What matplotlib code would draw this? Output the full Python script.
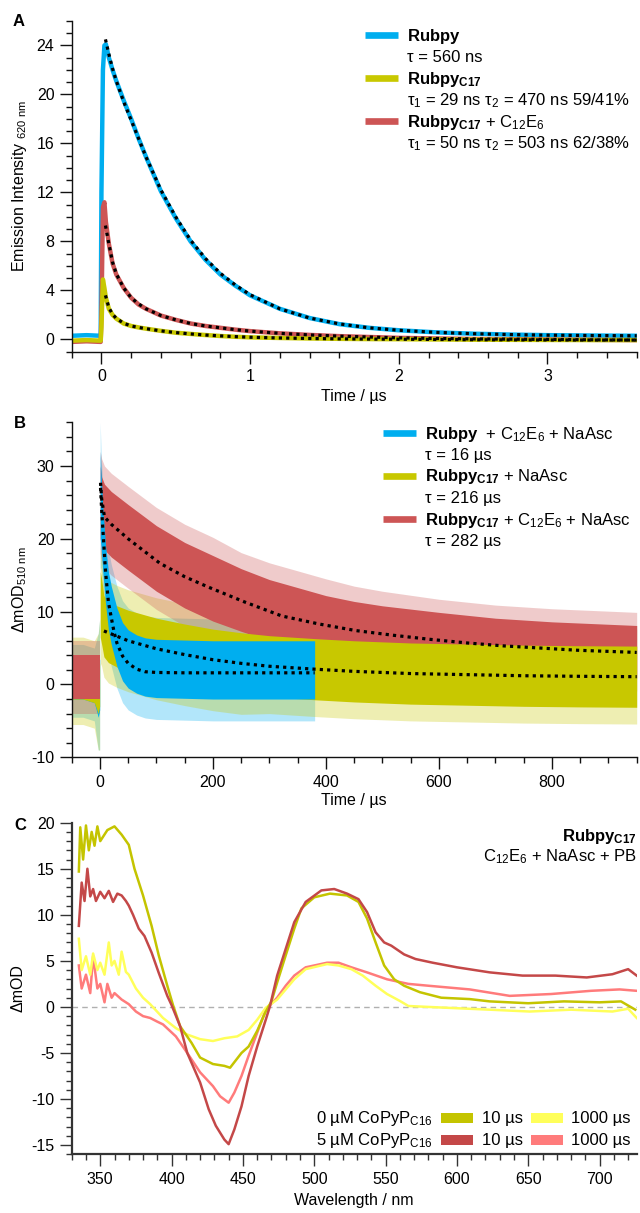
import matplotlib
matplotlib.use('Agg')
import matplotlib.pyplot as plt
from matplotlib.ticker import MultipleLocator
from matplotlib.lines import Line2D
import numpy as np

plt.rcParams['font.family'] = ['Liberation Sans', 'DejaVu Sans']
plt.rcParams['mathtext.fontset'] = 'custom'
plt.rcParams['mathtext.rm'] = 'Liberation Sans'
plt.rcParams['mathtext.it'] = 'Liberation Sans:italic'
plt.rcParams['mathtext.bf'] = 'Liberation Sans:bold'
plt.rcParams['mathtext.default'] = 'regular'
plt.rcParams['axes.unicode_minus'] = False

# ---------------- data: panel A (emission decays) ----------------
A_t = [-0.2, -0.1, -0.005, 0.0, 0.01, 0.02, 0.03, 0.05, 0.075, 0.1, 0.15, 0.2, 0.25, 0.3,
       0.4, 0.5, 0.6, 0.7, 0.8, 0.9, 1.0, 1.2, 1.4, 1.6, 1.8, 2.0, 2.25, 2.5, 2.75, 3.0, 3.3, 3.6]
A_rubpy = [0.3, 0.35, 0.3, 12.0, 22.0, 24.0, 24.1, 23.0, 22.0, 21.1, 19.5, 18.0, 16.4, 14.9,
           12.1, 9.9, 8.0, 6.5, 5.3, 4.4, 3.6, 2.5, 1.75, 1.25, 0.95, 0.75, 0.58, 0.47, 0.4, 0.35, 0.32, 0.3]
A_c17 = [-0.1, -0.05, -0.1, 1.0, 4.9, 4.2, 3.4, 2.5, 2.0, 1.7, 1.3, 1.1, 0.98, 0.88,
         0.7, 0.55, 0.45, 0.36, 0.28, 0.22, 0.17, 0.12, 0.08, 0.05, 0.03, 0.02, 0.0, -0.02, -0.03, -0.04, -0.05, -0.05]
A_c17_c12e6 = [-0.2, -0.15, -0.2, 2.0, 10.8, 11.2, 9.6, 7.8, 6.2, 5.3, 4.2, 3.4, 2.85, 2.5,
               1.95, 1.6, 1.3, 1.1, 0.95, 0.8, 0.68, 0.5, 0.37, 0.27, 0.2, 0.13, 0.08, 0.04, 0.02, 0.0, -0.03, -0.05]
A_tfit = [0.027, 0.05, 0.075, 0.1, 0.15, 0.2, 0.25, 0.3, 0.4, 0.5, 0.6, 0.7, 0.8, 0.9, 1.0,
          1.2, 1.4, 1.6, 1.8, 2.0, 2.25, 2.5, 2.75, 3.0, 3.3, 3.6]
A_fit_rubpy = [24.5, 23.3, 22.1, 21.1, 19.4, 17.9, 16.4, 14.9, 12.2, 10.0, 8.1, 6.6, 5.4, 4.45,
               3.65, 2.5, 1.75, 1.27, 0.95, 0.75, 0.58, 0.47, 0.4, 0.35, 0.32, 0.3]
A_fit_c17 = [3.6, 2.6, 2.05, 1.72, 1.32, 1.1, 0.98, 0.88, 0.7, 0.56, 0.45, 0.36, 0.29, 0.23, 0.18,
             0.12, 0.08, 0.05, 0.03, 0.02, 0.0, -0.02, -0.03, -0.04, -0.05, -0.05]
A_fit_c17_c12e6 = [9.3, 7.8, 6.3, 5.35, 4.2, 3.4, 2.9, 2.5, 1.95, 1.6, 1.3, 1.1, 0.95, 0.8, 0.68,
                   0.5, 0.37, 0.27, 0.2, 0.13, 0.08, 0.04, 0.02, 0.0, -0.03, -0.05]
A_names = [r'$\mathbf{Rubpy}$', r'$\mathbf{Rubpy_{C17}}$', r'$\mathbf{Rubpy_{C17}}$ + C$_{12}$E$_6$']
A_taus = ['τ = 560 ns', 'τ$_1$ = 29 ns τ$_2$ = 470 ns 59/41%', 'τ$_1$ = 50 ns τ$_2$ = 503 ns 62/38%']

# ---------------- data: panel B (transient absorption kinetics) ----------------
B_t_blue = [-50, -30, -10, -3, -0.5, 0.5, 2, 5, 10, 15, 20, 30, 40, 50, 65, 80, 100, 150, 200, 250, 300, 350, 380]
B_blue_mid = [0.5, 0.5, 0.0, -1.0, 0.0, 26, 24, 20, 15, 11.5, 9.5, 6.5, 4.5, 3.5, 2.8, 2.4, 2.2, 2.1, 2.0, 2.0, 2.0, 2.0, 2.0]
B_blue_core = [2.5, 2.5, 2.5, 3.5, 3.5, 6, 5, 4.5, 4, 4, 4, 4, 4, 4, 4, 4, 4, 4, 4, 4, 4, 4, 4]
B_blue_spike = [5, 5, 5, 8, 9, 10, 8, 7, 7, 7, 7, 7, 7, 7, 7, 7, 7, 7, 7, 7, 7, 7, 7]
B_t_yel = [-50, -30, -10, -3, -0.5, 0.5, 3, 7, 15, 30, 50, 100, 150, 200, 250, 300, 380, 450, 550, 650, 750, 850, 950]
B_yel_mid = [0.5, 0.5, 0.0, -1.0, 0.0, 11, 10, 8, 7.2, 6.6, 6.0, 4.9, 4.1, 3.4, 2.9, 2.5, 2.1, 1.8, 1.5, 1.35, 1.2, 1.12, 1.07]
B_yel_core = [2.5, 2.5, 2.5, 3, 3, 4.5, 4.5, 4.2, 4.2, 4.2, 4.2, 4.2, 4.2, 4.2, 4.2, 4.2, 4.2, 4.2, 4.2, 4.2, 4.2, 4.2, 4.2]
B_yel_spike = [6, 6, 6, 8, 9, 8, 7.5, 7, 7, 7, 7, 7, 7, 7, 7, 6.5, 6.5, 6.5, 6.5, 6.5, 6.5, 6.5, 6.5]
B_t_red = [-50, -30, -10, -3, -0.5, 0.5, 3, 8, 20, 50, 100, 150, 200, 250, 300, 350, 400, 450, 500, 600, 700, 800, 950]
B_red_mid = [1.0, 1.0, 1.0, 1.0, 1.0, 25, 24, 23, 22, 20.2, 17.3, 15.0, 13.2, 11.6, 10.2, 9.1, 8.2, 7.4, 6.8, 5.9, 5.3, 4.9, 4.5]
B_red_core = [3, 3, 3, 3, 3, 5, 4.5, 4.5, 4.5, 4.5, 4.5, 4.5, 4.5, 4.3, 4.2, 4.2, 4, 4, 4, 4, 3.8, 3.7, 3.6]
B_red_spike = [5, 5, 5, 5, 5, 7, 7, 7, 7, 7, 7, 7, 7, 6.5, 6.5, 6.5, 6.3, 6.1, 6.0, 5.8, 5.6, 5.5, 5.4]
B_tfit_blue = [1, 3, 5, 8, 10, 15, 20, 25, 30, 40, 50, 65, 80, 100, 150, 200, 300, 380]
B_fit_blue = [27, 24, 21.5, 17.8, 15.4, 11.3, 9.2, 7.2, 5.7, 3.9, 2.9, 2.1, 1.75, 1.65, 1.6, 1.6, 1.6, 1.6]
B_tfit_yel = [7, 50, 100, 150, 200, 250, 300, 380, 450, 550, 650, 750, 850, 950]
B_fit_yel = [7.35, 6.0, 4.9, 4.1, 3.4, 2.9, 2.5, 2.1, 1.8, 1.5, 1.35, 1.2, 1.12, 1.07]
B_tfit_red = [1, 3, 8, 20, 50, 106, 150, 191, 257, 322, 388, 453, 520, 584, 650, 714, 780, 845, 950]
B_fit_red = [27.7, 25.5, 23.0, 22.0, 20.0, 16.65, 14.8, 13.4, 11.3, 9.4, 8.3, 7.4, 6.75, 6.2, 5.7, 5.3, 5.0, 4.7, 4.4]
B_names = [r'$\mathbf{Rubpy}$  + C$_{12}$E$_6$ + NaAsc', r'$\mathbf{Rubpy_{C17}}$ + NaAsc',
           r'$\mathbf{Rubpy_{C17}}$ + C$_{12}$E$_6$ + NaAsc']
B_taus = ['τ = 16 µs', 'τ = 216 µs', 'τ = 282 µs']

# ---------------- data: panel C (spectra) ----------------
C_wl_0_10 = [335, 336, 338, 340, 342, 344, 346, 348, 350, 355, 360, 365, 370, 374, 380, 386, 391, 397, 401, 406,
             414, 420, 429, 437, 441, 449, 454, 460, 466, 470, 474, 480, 486, 491, 500, 511, 523, 531, 537, 543,
             549, 556, 563, 574, 589, 609, 623, 650, 675, 700, 715, 725]
C_0_10 = [14.7, 19.5, 16.0, 19.7, 17.0, 19.0, 17.5, 19.6, 18.0, 19.2, 19.6, 18.7, 17.6, 15.0, 12.1, 8.8, 5.6, 2.3, 0.2, -2.1,
          -3.9, -5.5, -6.2, -6.4, -6.6, -5.0, -4.3, -2.6, -0.5, 0.6, 2.65, 5.6, 8.5, 10.7, 11.9, 12.3, 12.1, 11.4, 9.6, 7.0,
          4.5, 3.0, 2.3, 1.6, 1.0, 0.85, 0.6, 0.4, 0.6, 0.5, 0.6, -0.3]
C_wl_5_10 = [335, 337, 339, 341, 343, 345, 347, 350, 353, 356, 359, 362, 365, 368, 370, 373, 377, 381, 386, 391,
             397, 400, 406, 411, 420, 426, 431, 437, 440, 444, 449, 454, 460, 466, 469, 474, 480, 486, 494, 505,
             514, 523, 531, 537, 543, 549, 554, 563, 571, 583, 600, 623, 646, 669, 691, 709, 720, 726]
C_5_10 = [8.8, 13.5, 11.5, 15.0, 12.0, 12.8, 11.5, 12.5, 11.8, 12.6, 11.4, 12.3, 12.1, 11.5, 11.0, 10.0, 8.5, 7.7, 5.9, 3.7,
          1.2, 0.2, -2.1, -5.0, -8.2, -11.1, -12.9, -14.4, -14.9, -13.3, -10.8, -7.5, -4.3, -1.4, 0.1, 3.4, 6.3, 9.2, 11.4, 12.65,
          12.8, 12.3, 11.7, 10.3, 8.1, 7.0, 6.65, 5.7, 5.2, 4.8, 4.3, 3.75, 3.4, 3.4, 3.2, 3.55, 4.1, 3.4]
C_wl_5_1000 = [335, 337, 340, 343, 345, 348, 350, 353, 355, 358, 360, 365, 370, 375, 380, 385, 390, 394, 403, 411,
               420, 429, 434, 440, 444, 449, 454, 460, 466, 474, 480, 486, 494, 509, 517, 526, 537, 551, 566, 580,
               609, 637, 666, 694, 714, 726]
C_5_1000 = [4.5, 2.0, 3.5, 1.5, 5.5, 2.0, 2.5, 0.5, 2.5, 1.0, 1.5, 0.8, 0.3, -0.5, -1.0, -1.2, -1.6, -1.9, -3.2, -5.0,
            -7.1, -8.6, -9.7, -10.4, -9.3, -7.5, -5.3, -2.8, -0.3, 1.0, 2.3, 3.4, 4.3, 4.8, 4.8, 4.3, 3.75, 3.0, 2.5, 2.3,
            1.9, 1.2, 1.4, 1.75, 1.9, 1.75]
C_wl_0_1000 = [335, 337, 340, 343, 345, 348, 350, 353, 356, 358, 360, 363, 365, 368, 370, 375, 380, 385, 394, 403,
               411, 420, 429, 437, 446, 454, 460, 466, 474, 480, 486, 494, 509, 517, 526, 534, 543, 551, 560, 566,
               594, 623, 651, 680, 709, 720, 726]
C_0_1000 = [7.4, 4.0, 5.5, 3.5, 5.8, 4.0, 4.8, 3.5, 7.0, 4.5, 5.0, 3.5, 6.0, 3.8, 3.5, 2.0, 1.0, 0.3, -1.2, -2.3,
            -3.0, -3.5, -3.7, -3.4, -3.2, -2.5, -1.4, -0.1, 0.8, 1.9, 3.0, 4.1, 4.65, 4.5, 4.1, 3.4, 2.3, 1.4, 0.65, 0.1,
            -0.1, -0.3, -0.5, -0.3, -0.5, -0.2, -1.2]
C_rows = ['0 µM CoPyP$_{C16}$', '5 µM CoPyP$_{C16}$']
C_times = ['10 µs', '1000 µs']

# ---------------- colours ----------------
BLUE = '#00AEEF'
OLIVE = '#C8C800'
RED = '#CD5555'
C_OLIVE = '#C4C400'
C_DRED = '#C44848'
C_LRED = '#FF7B7B'
C_YEL = '#FFFF5A'

W, H = 640, 1213
fig = plt.figure(figsize=(W / 100, H / 100), dpi=100)
FS = 11.5     # ticks and axis labels
LFS = 12.0    # legend / annotation text


def px_axes(l, t, r, b):
    return fig.add_axes([l / W, 1 - b / H, (r - l) / W, (b - t) / H])


def ftext(x, y, s, **kw):
    kw.setdefault('fontsize', LFS)
    return fig.text(x / W, 1 - y / H, s, **kw)


def fline(x0, x1, y, color, lw):
    fig.add_artist(Line2D([x0 / W, x1 / W], [1 - y / H, 1 - y / H], color=color, lw=lw,
                          solid_capstyle='butt', transform=fig.transFigure))


def style(ax, spine_color='#111111', slw=1.0):
    for s in ('top', 'right'):
        ax.spines[s].set_visible(False)
    for s in ('left', 'bottom'):
        ax.spines[s].set_color(spine_color)
        ax.spines[s].set_linewidth(slw)
    ax.tick_params(which='major', direction='out', length=8.4, width=1.0, pad=4.0,
                   labelsize=FS, color=spine_color)
    ax.tick_params(which='minor', direction='out', length=4.3, width=1.0, color=spine_color)


DOT = (0, (1, 1.3))

# ================= Panel A =================
axA = px_axes(71.7, 21, 636.7, 351.7)
style(axA)
axA.plot(A_t, A_rubpy, color=BLUE, lw=3.2)
axA.plot(A_t, A_c17_c12e6, color=RED, lw=3.2)
axA.plot(A_t, A_c17, color=OLIVE, lw=3.2)
for f in (A_fit_rubpy, A_fit_c17_c12e6, A_fit_c17):
    axA.plot(A_tfit, f, color='black', lw=2.3, ls=DOT)
axA.set_xlim(-0.2, 3.6)
axA.set_ylim(-1, 26)
axA.xaxis.set_major_locator(MultipleLocator(1))
axA.xaxis.set_minor_locator(MultipleLocator(0.2))
axA.yaxis.set_major_locator(MultipleLocator(4))
axA.yaxis.set_minor_locator(MultipleLocator(1))

for i, (c, n, tau) in enumerate(zip([BLUE, OLIVE, RED], A_names, A_taus)):
    y0 = 35 + i * 43.2
    fline(364.5, 398, y0, c, 4.8)
    ftext(407, y0 + 5.5, n, va='baseline', ha='left')
    ftext(407, y0 + 21.6 + 5.5, tau, va='baseline', ha='left')

ftext(19, 22, 'A', fontweight='bold', fontsize=12, ha='center', va='center')
ftext(20, 186, 'Emission Intensity $_{620\\ nm}$', rotation=90, ha='center', va='center', fontsize=FS)
ftext(354, 397, 'Time / µs', ha='center', va='center', fontsize=FS)

# ================= Panel B =================
axB = px_axes(71.7, 422.3, 636.7, 757.3)
style(axB)


def band(ax, t, mid, half, color, pre, alpha):
    t = np.asarray(t, float); mid = np.asarray(mid, float); half = np.asarray(half, float)
    m = t < 0 if pre else t > 0
    ax.fill_between(t[m], (mid - half)[m], (mid + half)[m], color=color, alpha=alpha, lw=0)


series = [(B_t_blue, B_blue_mid, B_blue_core, B_blue_spike, BLUE),
          (B_t_yel, B_yel_mid, B_yel_core, B_yel_spike, OLIVE),
          (B_t_red, B_red_mid, B_red_core, B_red_spike, RED)]
# light outer envelopes (noise spikes) first
for t, mid, core, spike, c in series:
    band(axB, t, mid, spike, c, True, 0.3)
    band(axB, t, mid, spike, c, False, 0.3)
# solid cores: pre-zero blue, yellow, red; post-zero red, yellow, blue
for t, mid, core, spike, c in series:
    band(axB, t, mid, core, c, True, 1.0)
for t, mid, core, spike, c in series[::-1]:
    band(axB, t, mid, core, c, False, 1.0)
axB.plot(B_tfit_red, B_fit_red, color='black', lw=2.3, ls=DOT)
axB.plot(B_tfit_yel, B_fit_yel, color='black', lw=2.3, ls=DOT)
axB.plot(B_tfit_blue, B_fit_blue, color='black', lw=2.3, ls=DOT)
axB.set_xlim(-50, 950)
axB.set_ylim(-10, 36)
axB.xaxis.set_major_locator(MultipleLocator(200))
axB.xaxis.set_minor_locator(MultipleLocator(50))
axB.yaxis.set_major_locator(MultipleLocator(10))
axB.yaxis.set_minor_locator(MultipleLocator(2))

for i, (c, n, tau) in enumerate(zip([BLUE, OLIVE, RED], B_names, B_taus)):
    y0 = 433 + i * 43
    fline(383, 416, y0, c, 4.8)
    ftext(425, y0 + 5.5, n, va='baseline', ha='left')
    ftext(425, y0 + 21.5 + 5.5, tau, va='baseline', ha='left')

ftext(20, 423, 'B', fontweight='bold', fontsize=12, ha='center', va='center')
ftext(20, 590, 'ΔmOD$_{510\\ nm}$', rotation=90, ha='center', va='center', fontsize=FS)
ftext(354, 800, 'Time / µs', ha='center', va='center', fontsize=FS)

# ================= Panel C =================
axC = px_axes(71.7, 822.7, 636.7, 1154.3)
style(axC, spine_color='#333333', slw=1.6)
axC.axhline(0, color='#B0B0B0', lw=1.0, ls=(0, (4, 3)), zorder=0)
axC.plot(C_wl_5_1000, C_5_1000, color=C_LRED, lw=1.8)
axC.plot(C_wl_0_1000, C_0_1000, color=C_YEL, lw=1.8)
axC.plot(C_wl_0_10, C_0_10, color=C_OLIVE, lw=1.8)
axC.plot(C_wl_5_10, C_5_10, color=C_DRED, lw=1.8)
axC.set_xlim(330, 726)
axC.set_ylim(-16, 20)
axC.xaxis.set_major_locator(MultipleLocator(50))
axC.xaxis.set_minor_locator(MultipleLocator(10))
axC.yaxis.set_major_locator(MultipleLocator(5))
axC.yaxis.set_minor_locator(MultipleLocator(1))

ftext(637, 840.5, r'$\mathbf{Rubpy_{C17}}$', ha='right', va='baseline')
ftext(637, 861.5, 'C$_{12}$E$_6$ + NaAsc + PB', ha='right', va='baseline')

row_cols = [(C_OLIVE, C_YEL), (C_DRED, C_LRED)]
for r, (lab, cols) in enumerate(zip(C_rows, row_cols)):
    y0 = 1118 + r * 22
    ftext(433, y0 + 5.5, lab, ha='right', va='baseline')
    fline(441, 473, y0, cols[0], 7.2)
    ftext(482, y0 + 5.5, C_times[0], ha='left', va='baseline')
    fline(531, 563, y0, cols[1], 7.2)
    ftext(571, y0 + 5.5, C_times[1], ha='left', va='baseline')

ftext(20, 826, 'C', fontweight='bold', fontsize=12, ha='center', va='center')
ftext(18, 988, 'ΔmOD', rotation=90, ha='center', va='center', fontsize=FS)
ftext(354, 1200, 'Wavelength / nm', ha='center', va='center', fontsize=FS)

fig.savefig('out.png', dpi=100)
